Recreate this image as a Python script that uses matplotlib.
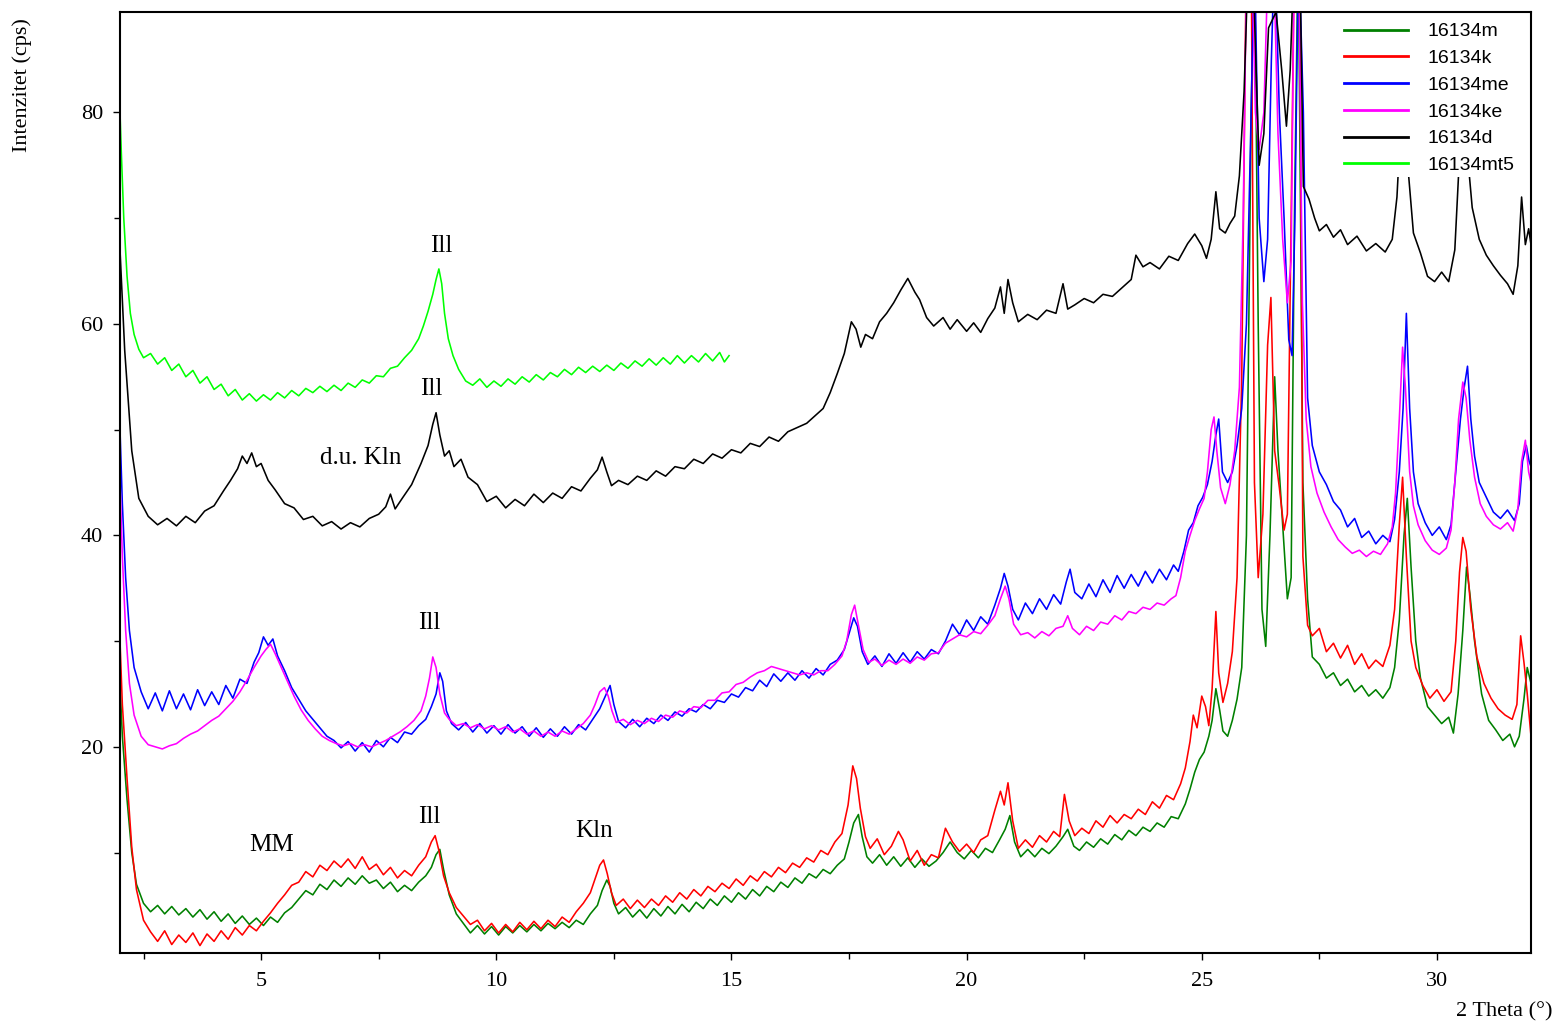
import numpy as np
import matplotlib
matplotlib.use('Agg')
import matplotlib.pyplot as plt
from matplotlib.ticker import MultipleLocator

# XRD traces, (2 theta [deg], intensity [cps])
# values above ~89 are off the top of the original plot
m_pts = [
    (2.0, 26.0), (2.05, 21.0), (2.15, 15.0), (2.25, 10.0), (2.35, 7.0), (2.5, 5.2), (2.65, 4.4),
    (2.8, 5.0), (2.95, 4.2), (3.1, 4.9), (3.25, 4.1), (3.4, 4.7), (3.55, 3.9), (3.7, 4.6),
    (3.85, 3.7), (4.0, 4.4), (4.15, 3.5), (4.3, 4.2), (4.45, 3.3), (4.6, 4.0), (4.75, 3.2),
    (4.9, 3.8), (5.05, 3.1), (5.2, 3.9), (5.35, 3.4), (5.5, 4.3), (5.65, 4.8), (5.8, 5.6),
    (5.95, 6.4), (6.1, 6.0), (6.25, 7.0), (6.4, 6.5), (6.55, 7.4), (6.7, 6.8), (6.85, 7.6),
    (7.0, 7.0), (7.15, 7.8), (7.3, 7.1), (7.45, 7.4), (7.6, 6.6), (7.75, 7.2), (7.9, 6.3),
    (8.05, 6.9), (8.2, 6.4), (8.35, 7.2), (8.5, 7.8), (8.62, 8.6), (8.72, 9.8), (8.8, 10.3),
    (8.88, 8.4), (9.0, 6.0), (9.15, 4.2), (9.3, 3.3), (9.45, 2.4), (9.6, 3.1), (9.75, 2.3),
    (9.9, 3.0), (10.05, 2.2), (10.2, 3.0), (10.35, 2.4), (10.5, 3.1), (10.65, 2.5), (10.8, 3.2),
    (10.95, 2.6), (11.1, 3.3), (11.25, 2.8), (11.4, 3.4), (11.55, 2.9), (11.7, 3.6), (11.85, 3.2),
    (12.0, 4.2), (12.15, 5.0), (12.25, 6.4), (12.35, 7.4), (12.42, 6.8), (12.5, 5.2), (12.6, 4.2),
    (12.75, 4.8), (12.9, 3.9), (13.05, 4.6), (13.2, 3.8), (13.35, 4.7), (13.5, 4.0), (13.65, 4.9),
    (13.8, 4.2), (13.95, 5.1), (14.1, 4.4), (14.25, 5.3), (14.4, 4.7), (14.55, 5.6), (14.7, 5.0),
    (14.85, 5.9), (15.0, 5.3), (15.15, 6.2), (15.3, 5.6), (15.45, 6.5), (15.6, 5.9), (15.75, 6.8),
    (15.9, 6.3), (16.05, 7.2), (16.2, 6.7), (16.35, 7.6), (16.5, 7.1), (16.65, 8.0), (16.8, 7.6),
    (16.95, 8.4), (17.1, 8.0), (17.25, 8.8), (17.4, 9.4), (17.5, 11.0), (17.6, 12.8), (17.7, 13.6),
    (17.78, 11.5), (17.88, 9.6), (18.0, 9.0), (18.15, 9.8), (18.3, 8.8), (18.45, 9.6), (18.6, 8.7),
    (18.75, 9.5), (18.9, 8.6), (19.05, 9.4), (19.2, 8.7), (19.35, 9.2), (19.5, 10.0), (19.65, 11.0),
    (19.8, 10.0), (19.95, 9.4), (20.1, 10.2), (20.25, 9.5), (20.4, 10.4), (20.55, 10.0), (20.7, 11.2),
    (20.82, 12.2), (20.92, 13.5), (21.02, 11.0), (21.15, 9.6), (21.3, 10.3), (21.45, 9.6), (21.6, 10.4),
    (21.75, 9.9), (21.9, 10.6), (22.05, 11.5), (22.15, 12.2), (22.28, 10.6), (22.4, 10.2), (22.55, 11.0),
    (22.7, 10.5), (22.85, 11.3), (23.0, 10.8), (23.15, 11.7), (23.3, 11.2), (23.45, 12.1), (23.6, 11.6),
    (23.75, 12.4), (23.9, 12.0), (24.05, 12.8), (24.2, 12.4), (24.35, 13.4), (24.5, 13.2), (24.65, 14.6),
    (24.75, 16.0), (24.85, 17.6), (24.95, 18.8), (25.05, 19.5), (25.15, 21.0), (25.22, 22.5), (25.3, 25.5),
    (25.38, 23.5), (25.45, 21.5), (25.55, 21.0), (25.65, 22.5), (25.75, 24.5), (25.85, 27.5), (25.95, 40.0),
    (26.05, 80.0), (26.12, 96.0), (26.2, 60.0), (26.28, 33.0), (26.36, 29.5), (26.45, 40.0), (26.55, 55.0),
    (26.62, 48.0), (26.72, 41.0), (26.82, 34.0), (26.9, 36.0), (26.97, 70.0), (27.05, 96.0), (27.15, 45.0),
    (27.25, 34.0), (27.35, 28.5), (27.5, 27.8), (27.65, 26.5), (27.8, 27.0), (27.95, 25.8), (28.1, 26.4),
    (28.25, 25.2), (28.4, 25.8), (28.55, 24.8), (28.7, 25.4), (28.85, 24.6), (29.0, 25.6), (29.1, 27.5),
    (29.2, 32.0), (29.3, 40.0), (29.37, 43.5), (29.45, 37.0), (29.55, 30.0), (29.65, 26.5), (29.8, 23.8),
    (29.95, 23.0), (30.1, 22.2), (30.25, 22.8), (30.35, 21.3), (30.45, 25.0), (30.55, 31.0), (30.63, 37.0),
    (30.7, 34.5), (30.8, 30.0), (30.95, 25.0), (31.1, 22.5), (31.25, 21.6), (31.4, 20.6), (31.55, 21.2),
    (31.65, 20.0), (31.75, 21.0), (31.85, 24.5), (31.92, 27.5), (32.0, 26.0),
]

k_pts = [
    (2.0, 30.0), (2.05, 24.0), (2.15, 17.0), (2.25, 10.5), (2.35, 6.5), (2.5, 3.6), (2.65, 2.5),
    (2.8, 1.6), (2.95, 2.6), (3.1, 1.3), (3.25, 2.2), (3.4, 1.5), (3.55, 2.4), (3.7, 1.2),
    (3.85, 2.3), (4.0, 1.6), (4.15, 2.6), (4.3, 1.8), (4.45, 2.9), (4.6, 2.2), (4.75, 3.1),
    (4.9, 2.6), (5.05, 3.5), (5.2, 4.3), (5.35, 5.2), (5.5, 6.0), (5.65, 6.9), (5.8, 7.2),
    (5.95, 8.2), (6.1, 7.7), (6.25, 8.8), (6.4, 8.3), (6.55, 9.2), (6.7, 8.6), (6.85, 9.4),
    (7.0, 8.5), (7.15, 9.6), (7.3, 8.4), (7.45, 8.9), (7.6, 7.9), (7.75, 8.6), (7.9, 7.6),
    (8.05, 8.3), (8.2, 7.8), (8.35, 8.8), (8.5, 9.6), (8.62, 11.0), (8.7, 11.6), (8.78, 10.2),
    (8.88, 7.8), (9.0, 6.2), (9.15, 4.8), (9.3, 4.0), (9.45, 3.2), (9.6, 3.6), (9.75, 2.6),
    (9.9, 3.3), (10.05, 2.4), (10.2, 3.2), (10.35, 2.5), (10.5, 3.4), (10.65, 2.7), (10.8, 3.5),
    (10.95, 2.8), (11.1, 3.6), (11.25, 3.0), (11.4, 3.9), (11.55, 3.4), (11.7, 4.4), (11.85, 5.2),
    (12.0, 6.2), (12.1, 7.5), (12.2, 8.8), (12.28, 9.3), (12.36, 8.0), (12.45, 6.2), (12.55, 5.0),
    (12.7, 5.6), (12.85, 4.7), (13.0, 5.5), (13.15, 4.8), (13.3, 5.6), (13.45, 5.0), (13.6, 5.9),
    (13.75, 5.3), (13.9, 6.2), (14.05, 5.6), (14.2, 6.5), (14.35, 5.9), (14.5, 6.8), (14.65, 6.3),
    (14.8, 7.1), (14.95, 6.6), (15.1, 7.5), (15.25, 6.9), (15.4, 7.8), (15.55, 7.3), (15.7, 8.2),
    (15.85, 7.7), (16.0, 8.6), (16.15, 8.1), (16.3, 9.0), (16.45, 8.6), (16.6, 9.5), (16.75, 9.1),
    (16.9, 10.2), (17.05, 9.8), (17.2, 11.0), (17.35, 11.8), (17.48, 14.5), (17.58, 18.2), (17.66, 17.0),
    (17.74, 14.2), (17.85, 11.5), (17.95, 10.4), (18.1, 11.3), (18.25, 9.8), (18.4, 10.6), (18.55, 12.0),
    (18.65, 11.2), (18.8, 9.2), (18.95, 10.2), (19.1, 8.8), (19.25, 9.8), (19.4, 9.5), (19.55, 12.3),
    (19.7, 11.0), (19.85, 10.1), (20.0, 10.8), (20.15, 10.0), (20.3, 11.2), (20.45, 11.6), (20.6, 14.0),
    (20.72, 15.8), (20.8, 14.5), (20.88, 16.6), (20.98, 13.0), (21.1, 10.4), (21.25, 11.2), (21.4, 10.5),
    (21.55, 11.6), (21.7, 11.0), (21.85, 12.0), (21.98, 11.5), (22.08, 15.5), (22.18, 13.0), (22.3, 11.6),
    (22.45, 12.3), (22.6, 11.8), (22.75, 13.0), (22.9, 12.4), (23.05, 13.5), (23.2, 12.8), (23.35, 13.6),
    (23.5, 13.2), (23.65, 14.1), (23.8, 13.6), (23.95, 14.8), (24.1, 14.2), (24.25, 15.4), (24.4, 15.0),
    (24.55, 16.5), (24.65, 18.0), (24.75, 20.5), (24.82, 23.0), (24.9, 21.8), (25.0, 24.8), (25.08, 23.8),
    (25.15, 22.0), (25.22, 25.5), (25.3, 32.8), (25.36, 27.0), (25.45, 24.2), (25.55, 26.0), (25.65, 29.0),
    (25.75, 36.0), (25.85, 55.0), (25.95, 96.0), (26.05, 96.0), (26.12, 45.0), (26.2, 36.0), (26.3, 42.0),
    (26.4, 58.0), (26.47, 62.5), (26.55, 48.0), (26.65, 44.5), (26.75, 40.5), (26.82, 42.0), (26.9, 70.0),
    (26.97, 96.0), (27.08, 96.0), (27.15, 38.0), (27.25, 31.5), (27.35, 30.5), (27.5, 31.2), (27.65, 29.0),
    (27.8, 29.8), (27.95, 28.4), (28.1, 29.6), (28.25, 27.8), (28.4, 28.8), (28.55, 27.4), (28.7, 28.2),
    (28.85, 27.6), (29.0, 29.6), (29.1, 33.0), (29.2, 41.0), (29.27, 45.5), (29.35, 38.0), (29.45, 30.0),
    (29.55, 27.5), (29.7, 25.8), (29.85, 24.6), (30.0, 25.4), (30.15, 24.3), (30.3, 25.2), (30.4, 30.0),
    (30.48, 36.5), (30.55, 39.8), (30.62, 38.5), (30.72, 33.0), (30.85, 28.5), (31.0, 26.0), (31.15, 24.6),
    (31.3, 23.6), (31.45, 23.0), (31.6, 22.6), (31.7, 24.0), (31.78, 30.5), (31.85, 28.0), (31.92, 25.0),
    (32.0, 21.0),
]

me_pts = [
    (2.0, 50.0), (2.05, 43.0), (2.12, 36.0), (2.2, 31.0), (2.3, 27.5), (2.45, 25.2), (2.6, 23.6),
    (2.75, 25.1), (2.9, 23.4), (3.05, 25.3), (3.2, 23.6), (3.35, 25.0), (3.5, 23.5), (3.65, 25.4),
    (3.8, 23.9), (3.95, 25.2), (4.1, 24.0), (4.25, 25.8), (4.4, 24.6), (4.55, 26.4), (4.7, 26.0),
    (4.85, 28.0), (4.95, 28.9), (5.05, 30.4), (5.15, 29.6), (5.25, 30.2), (5.35, 28.6), (5.5, 27.2),
    (5.65, 25.6), (5.8, 24.5), (5.95, 23.4), (6.1, 22.6), (6.25, 21.8), (6.4, 21.0), (6.55, 20.6),
    (6.7, 19.9), (6.85, 20.5), (7.0, 19.6), (7.15, 20.4), (7.3, 19.5), (7.45, 20.6), (7.6, 20.0),
    (7.75, 20.9), (7.9, 20.4), (8.05, 21.4), (8.2, 21.2), (8.35, 22.0), (8.5, 22.6), (8.62, 23.8),
    (8.72, 25.0), (8.8, 27.0), (8.86, 26.2), (8.94, 23.4), (9.05, 22.2), (9.2, 21.6), (9.35, 22.3),
    (9.5, 21.4), (9.65, 22.2), (9.8, 21.3), (9.95, 22.0), (10.1, 21.2), (10.25, 22.1), (10.4, 21.3),
    (10.55, 21.9), (10.7, 21.0), (10.85, 21.8), (11.0, 20.9), (11.15, 21.7), (11.3, 21.0), (11.45, 21.9),
    (11.6, 21.2), (11.75, 22.1), (11.9, 21.6), (12.05, 22.6), (12.2, 23.6), (12.32, 24.8), (12.42, 25.8),
    (12.5, 24.0), (12.6, 22.4), (12.75, 21.8), (12.9, 22.6), (13.05, 21.9), (13.2, 22.7), (13.35, 22.2),
    (13.5, 23.0), (13.65, 22.5), (13.8, 23.3), (13.95, 22.9), (14.1, 23.6), (14.25, 23.3), (14.4, 24.0),
    (14.55, 23.6), (14.7, 24.4), (14.85, 24.2), (15.0, 25.0), (15.15, 24.7), (15.3, 25.6), (15.45, 25.3),
    (15.6, 26.3), (15.75, 25.7), (15.9, 26.9), (16.05, 26.2), (16.2, 27.0), (16.35, 26.3), (16.5, 27.2),
    (16.65, 26.5), (16.8, 27.4), (16.95, 26.8), (17.1, 27.8), (17.25, 28.2), (17.4, 29.2), (17.52, 31.0),
    (17.6, 32.2), (17.68, 31.4), (17.78, 29.0), (17.9, 27.8), (18.05, 28.6), (18.2, 27.6), (18.35, 28.8),
    (18.5, 27.9), (18.65, 28.9), (18.8, 28.0), (18.95, 29.0), (19.1, 28.3), (19.25, 29.2), (19.4, 28.8),
    (19.55, 30.0), (19.7, 31.6), (19.85, 30.6), (20.0, 32.0), (20.15, 31.0), (20.3, 32.3), (20.45, 31.6),
    (20.6, 33.4), (20.72, 35.0), (20.8, 36.4), (20.88, 35.2), (20.98, 33.0), (21.1, 32.0), (21.25, 33.6),
    (21.4, 32.6), (21.55, 34.0), (21.7, 33.0), (21.85, 34.4), (22.0, 33.5), (22.12, 35.6), (22.2, 36.8),
    (22.3, 34.6), (22.45, 34.0), (22.6, 35.4), (22.75, 34.2), (22.9, 35.8), (23.05, 34.6), (23.2, 36.2),
    (23.35, 35.0), (23.5, 36.3), (23.65, 35.2), (23.8, 36.6), (23.95, 35.5), (24.1, 36.8), (24.25, 35.8),
    (24.4, 37.2), (24.5, 36.6), (24.62, 38.5), (24.72, 40.5), (24.82, 41.2), (24.92, 42.8), (25.02, 43.6),
    (25.12, 44.8), (25.22, 47.0), (25.3, 49.5), (25.36, 51.0), (25.44, 46.0), (25.55, 45.0), (25.65, 46.0),
    (25.75, 48.5), (25.85, 52.0), (25.95, 60.0), (26.05, 80.0), (26.12, 96.0), (26.22, 70.0), (26.32, 64.0),
    (26.4, 68.0), (26.48, 85.0), (26.55, 96.0), (26.65, 80.0), (26.75, 70.0), (26.85, 58.5), (26.92, 57.0),
    (26.98, 70.0), (27.06, 96.0), (27.16, 80.0), (27.25, 53.0), (27.35, 48.5), (27.5, 46.0), (27.65, 44.8),
    (27.8, 43.2), (27.95, 42.4), (28.1, 40.8), (28.25, 41.6), (28.4, 39.8), (28.55, 40.4), (28.7, 39.2),
    (28.85, 40.0), (29.0, 39.4), (29.1, 41.5), (29.2, 46.0), (29.28, 52.0), (29.35, 61.0), (29.42, 52.0),
    (29.5, 46.0), (29.6, 43.0), (29.75, 41.2), (29.9, 40.0), (30.05, 40.8), (30.2, 39.6), (30.3, 41.0),
    (30.4, 46.0), (30.5, 51.0), (30.58, 54.0), (30.65, 56.0), (30.72, 51.0), (30.8, 47.5), (30.9, 45.0),
    (31.05, 43.6), (31.2, 42.2), (31.35, 41.6), (31.5, 42.4), (31.65, 41.4), (31.75, 43.0), (31.82, 47.0),
    (31.9, 48.5), (31.96, 47.0), (32.0, 46.5),
]

ke_pts = [
    (2.0, 45.0), (2.05, 38.0), (2.12, 31.0), (2.2, 26.0), (2.3, 23.0), (2.45, 21.0), (2.6, 20.2),
    (2.75, 20.0), (2.9, 19.8), (3.05, 20.1), (3.2, 20.3), (3.35, 20.8), (3.5, 21.2), (3.65, 21.5),
    (3.8, 22.0), (3.95, 22.5), (4.1, 22.9), (4.25, 23.6), (4.4, 24.3), (4.55, 25.2), (4.7, 26.3),
    (4.85, 27.5), (5.0, 28.6), (5.1, 29.2), (5.2, 29.7), (5.3, 28.8), (5.4, 27.8), (5.55, 26.3),
    (5.7, 24.8), (5.85, 23.5), (6.0, 22.5), (6.15, 21.7), (6.3, 21.0), (6.45, 20.6), (6.6, 20.3),
    (6.75, 20.1), (6.9, 20.3), (7.05, 20.0), (7.2, 20.2), (7.35, 20.0), (7.5, 20.3), (7.65, 20.6),
    (7.8, 21.0), (7.95, 21.4), (8.1, 21.9), (8.25, 22.5), (8.4, 23.4), (8.5, 24.8), (8.58, 26.5),
    (8.65, 28.5), (8.72, 27.5), (8.8, 25.0), (8.9, 23.2), (9.0, 22.6), (9.15, 22.0), (9.3, 22.2),
    (9.45, 21.8), (9.6, 22.1), (9.75, 21.7), (9.9, 22.0), (10.05, 21.6), (10.2, 21.9), (10.35, 21.4),
    (10.5, 21.7), (10.65, 21.2), (10.8, 21.5), (10.95, 21.0), (11.1, 21.4), (11.25, 21.0), (11.4, 21.5),
    (11.55, 21.2), (11.7, 21.7), (11.85, 22.2), (12.0, 23.0), (12.1, 24.0), (12.2, 25.2), (12.3, 25.6),
    (12.38, 24.8), (12.46, 23.4), (12.55, 22.3), (12.7, 22.6), (12.85, 22.1), (13.0, 22.5), (13.15, 22.2),
    (13.3, 22.7), (13.45, 22.4), (13.6, 23.0), (13.75, 22.8), (13.9, 23.4), (14.05, 23.2), (14.2, 23.8),
    (14.35, 23.7), (14.5, 24.4), (14.65, 24.4), (14.8, 25.1), (14.95, 25.2), (15.1, 25.9), (15.25, 26.1),
    (15.4, 26.6), (15.55, 27.0), (15.7, 27.2), (15.85, 27.6), (16.0, 27.4), (16.15, 27.2), (16.3, 27.0),
    (16.45, 26.8), (16.6, 27.0), (16.75, 26.8), (16.9, 27.2), (17.05, 27.2), (17.2, 27.8), (17.35, 28.6),
    (17.45, 30.0), (17.55, 32.5), (17.62, 33.4), (17.7, 31.5), (17.8, 29.2), (17.92, 28.0), (18.05, 28.3),
    (18.2, 27.7), (18.35, 28.2), (18.5, 27.8), (18.65, 28.3), (18.8, 27.9), (18.95, 28.5), (19.1, 28.2),
    (19.25, 28.8), (19.4, 28.9), (19.55, 29.8), (19.7, 30.2), (19.85, 30.6), (20.0, 30.4), (20.15, 30.9),
    (20.3, 30.7), (20.45, 31.5), (20.6, 32.4), (20.72, 34.0), (20.82, 35.2), (20.9, 34.0), (21.0, 31.6),
    (21.15, 30.6), (21.3, 30.8), (21.45, 30.3), (21.6, 30.9), (21.75, 30.5), (21.9, 31.2), (22.05, 31.4),
    (22.15, 32.4), (22.25, 31.2), (22.4, 30.6), (22.55, 31.4), (22.7, 31.0), (22.85, 31.8), (23.0, 31.6),
    (23.15, 32.4), (23.3, 32.0), (23.45, 32.8), (23.6, 32.6), (23.75, 33.2), (23.9, 33.0), (24.05, 33.6),
    (24.2, 33.4), (24.35, 34.0), (24.45, 34.3), (24.55, 36.0), (24.65, 38.5), (24.75, 40.0), (24.85, 41.4),
    (24.95, 42.5), (25.05, 43.5), (25.12, 46.0), (25.2, 50.0), (25.26, 51.2), (25.32, 48.0), (25.4, 44.5),
    (25.5, 43.0), (25.6, 44.8), (25.7, 48.0), (25.8, 54.0), (25.88, 70.0), (25.96, 96.0), (26.06, 96.0),
    (26.14, 80.0), (26.22, 76.5), (26.32, 80.0), (26.42, 96.0), (26.52, 96.0), (26.62, 78.0), (26.72, 68.0),
    (26.82, 62.0), (26.9, 66.0), (26.97, 96.0), (27.06, 96.0), (27.14, 62.0), (27.22, 51.0), (27.32, 46.5),
    (27.45, 44.0), (27.6, 42.2), (27.75, 40.8), (27.9, 39.6), (28.05, 38.9), (28.2, 38.3), (28.35, 38.6),
    (28.5, 38.0), (28.65, 38.5), (28.8, 38.2), (28.95, 39.2), (29.05, 40.8), (29.12, 44.0), (29.2, 51.0),
    (29.27, 57.8), (29.33, 54.0), (29.42, 46.0), (29.5, 42.8), (29.6, 41.0), (29.75, 39.5), (29.9, 38.6),
    (30.05, 38.2), (30.2, 38.8), (30.3, 40.5), (30.38, 45.0), (30.46, 51.0), (30.55, 54.5), (30.62, 53.0),
    (30.7, 49.0), (30.8, 45.5), (30.92, 43.0), (31.05, 41.8), (31.2, 41.0), (31.35, 40.6), (31.5, 41.2),
    (31.62, 40.4), (31.72, 42.5), (31.8, 47.0), (31.88, 49.0), (31.95, 46.0), (32.0, 45.0),
]

d_pts = [
    (2.0, 67.0), (2.1, 57.5), (2.25, 48.0), (2.4, 43.5), (2.6, 41.8), (2.8, 41.0), (3.0, 41.6),
    (3.2, 40.9), (3.4, 41.8), (3.6, 41.2), (3.8, 42.3), (4.0, 42.8), (4.2, 44.2), (4.35, 45.2),
    (4.5, 46.3), (4.6, 47.5), (4.7, 46.8), (4.8, 47.8), (4.9, 46.5), (5.0, 46.8), (5.15, 45.2),
    (5.3, 44.3), (5.5, 43.0), (5.7, 42.6), (5.9, 41.5), (6.1, 41.8), (6.3, 40.9), (6.5, 41.3),
    (6.7, 40.6), (6.9, 41.2), (7.1, 40.8), (7.3, 41.6), (7.5, 42.0), (7.65, 42.7), (7.75, 43.9),
    (7.85, 42.5), (8.0, 43.5), (8.2, 44.8), (8.4, 46.8), (8.55, 48.5), (8.65, 50.5), (8.72, 51.6),
    (8.8, 49.5), (8.9, 47.5), (9.0, 48.0), (9.1, 46.5), (9.25, 47.2), (9.4, 45.5), (9.6, 44.8),
    (9.8, 43.2), (10.0, 43.7), (10.2, 42.6), (10.4, 43.4), (10.6, 42.8), (10.8, 43.9), (11.0, 43.1),
    (11.2, 44.0), (11.4, 43.5), (11.6, 44.6), (11.8, 44.2), (12.0, 45.4), (12.15, 46.2), (12.25, 47.4),
    (12.35, 46.0), (12.45, 44.7), (12.6, 45.2), (12.8, 44.8), (13.0, 45.6), (13.2, 45.2), (13.4, 46.1),
    (13.6, 45.6), (13.8, 46.5), (14.0, 46.3), (14.2, 47.2), (14.4, 46.8), (14.6, 47.7), (14.8, 47.3),
    (15.0, 48.1), (15.2, 47.8), (15.4, 48.7), (15.6, 48.4), (15.8, 49.3), (16.0, 48.9), (16.2, 49.8),
    (16.4, 50.2), (16.6, 50.6), (16.8, 51.4), (16.95, 52.0), (17.1, 53.5), (17.25, 55.3), (17.4, 57.2),
    (17.55, 60.2), (17.65, 59.5), (17.75, 57.8), (17.85, 59.0), (18.0, 58.6), (18.15, 60.2), (18.3, 61.0),
    (18.45, 62.0), (18.6, 63.2), (18.75, 64.3), (18.9, 63.0), (19.0, 62.3), (19.15, 60.6), (19.3, 59.8),
    (19.5, 60.6), (19.65, 59.5), (19.8, 60.4), (20.0, 59.3), (20.15, 60.1), (20.3, 59.2), (20.45, 60.5),
    (20.6, 61.5), (20.72, 63.5), (20.8, 61.0), (20.88, 64.2), (20.98, 62.0), (21.1, 60.2), (21.3, 60.9),
    (21.5, 60.4), (21.7, 61.3), (21.9, 61.0), (22.05, 63.8), (22.15, 61.4), (22.3, 61.8), (22.5, 62.4),
    (22.7, 62.0), (22.9, 62.8), (23.1, 62.6), (23.3, 63.4), (23.5, 64.2), (23.6, 66.5), (23.75, 65.4),
    (23.9, 65.8), (24.1, 65.2), (24.3, 66.4), (24.5, 66.0), (24.7, 67.6), (24.85, 68.5), (25.0, 67.4),
    (25.1, 66.2), (25.2, 68.0), (25.3, 72.5), (25.38, 69.0), (25.5, 68.6), (25.6, 69.5), (25.7, 70.2),
    (25.8, 74.0), (25.9, 82.0), (26.0, 96.0), (26.1, 92.0), (26.22, 75.0), (26.32, 78.0), (26.42, 88.0),
    (26.58, 89.5), (26.7, 84.0), (26.8, 78.7), (26.88, 84.0), (26.97, 96.0), (27.08, 96.0), (27.16, 73.0),
    (27.28, 71.8), (27.4, 70.0), (27.5, 68.8), (27.65, 69.4), (27.8, 68.2), (27.95, 68.9), (28.1, 67.5),
    (28.3, 68.3), (28.5, 66.9), (28.7, 67.6), (28.9, 66.8), (29.05, 68.0), (29.15, 72.0), (29.22, 78.0),
    (29.3, 80.0), (29.38, 75.0), (29.5, 68.6), (29.65, 66.7), (29.8, 64.5), (29.95, 64.0), (30.1, 64.9),
    (30.25, 64.0), (30.38, 67.0), (30.47, 75.0), (30.55, 80.0), (30.65, 76.0), (30.75, 71.0), (30.9, 68.0),
    (31.05, 66.5), (31.2, 65.5), (31.35, 64.6), (31.5, 63.8), (31.62, 62.8), (31.72, 65.5), (31.8, 72.0),
    (31.88, 67.5), (31.95, 69.0), (32.0, 67.5),
]

mt5_pts = [
    (2.0, 80.0), (2.03, 76.0), (2.08, 70.0), (2.15, 64.5), (2.22, 61.0), (2.3, 59.0), (2.4, 57.6),
    (2.5, 56.8), (2.65, 57.2), (2.8, 56.2), (2.95, 56.8), (3.1, 55.6), (3.25, 56.2), (3.4, 55.0),
    (3.55, 55.6), (3.7, 54.4), (3.85, 55.0), (4.0, 53.8), (4.15, 54.3), (4.3, 53.2), (4.45, 53.8),
    (4.6, 52.8), (4.75, 53.4), (4.9, 52.7), (5.05, 53.3), (5.2, 52.8), (5.35, 53.5), (5.5, 53.0),
    (5.65, 53.7), (5.8, 53.2), (5.95, 53.9), (6.1, 53.5), (6.25, 54.1), (6.4, 53.6), (6.55, 54.2),
    (6.7, 53.7), (6.85, 54.4), (7.0, 54.0), (7.15, 54.7), (7.3, 54.4), (7.45, 55.1), (7.6, 55.0),
    (7.75, 55.8), (7.9, 56.0), (8.05, 56.8), (8.2, 57.5), (8.35, 58.6), (8.45, 59.8), (8.55, 61.2),
    (8.65, 62.8), (8.72, 64.2), (8.78, 65.2), (8.84, 63.8), (8.9, 61.0), (8.98, 58.6), (9.08, 57.0),
    (9.2, 55.7), (9.35, 54.6), (9.5, 54.2), (9.65, 54.8), (9.8, 54.0), (9.95, 54.6), (10.1, 54.1),
    (10.25, 54.8), (10.4, 54.3), (10.55, 55.0), (10.7, 54.5), (10.85, 55.2), (11.0, 54.7), (11.15, 55.4),
    (11.3, 55.0), (11.45, 55.7), (11.6, 55.2), (11.75, 55.9), (11.9, 55.4), (12.05, 56.0), (12.2, 55.5),
    (12.35, 56.1), (12.5, 55.6), (12.65, 56.3), (12.8, 55.8), (12.95, 56.5), (13.1, 56.0), (13.25, 56.7),
    (13.4, 56.1), (13.55, 56.8), (13.7, 56.2), (13.85, 57.0), (14.0, 56.3), (14.15, 57.0), (14.3, 56.4),
    (14.45, 57.2), (14.6, 56.5), (14.75, 57.3), (14.85, 56.4), (14.95, 57.0),
]

series = [
    ('16134m', m_pts, '#008000'),
    ('16134k', k_pts, '#ff0000'),
    ('16134me', me_pts, '#0000ff'),
    ('16134ke', ke_pts, '#ff00ff'),
    ('16134d', d_pts, '#000000'),
    ('16134mt5', mt5_pts, '#00ff00'),
]

# phase labels: (text, 2theta, intensity)
labels = [
    ('Ill', 8.84, 67.4),
    ('Ill', 8.61, 53.8),
    ('d.u. Kln', 7.12, 47.3),
    ('Ill', 8.57, 31.7),
    ('MM', 5.23, 10.7),
    ('Ill', 8.57, 13.4),
    ('Kln', 12.07, 12.0),
]

serif = 'Liberation Serif'

fig = plt.figure(figsize=(15.55, 10.26), dpi=100)
ax = fig.add_axes([120 / 1555, 73 / 1026, 1411 / 1555, 941 / 1026])

for name, pts, col in series:
    xs, ys = zip(*pts)
    ax.plot(xs, ys, color=col, lw=1.15, label=name)

for txt, x, y in labels:
    ax.text(x, y, txt, ha='center', va='center', fontsize=18, family=serif)

ax.set_xlim(2, 32)
ax.set_ylim(0.5, 89.5)
ax.xaxis.set_major_locator(MultipleLocator(5))
ax.xaxis.set_minor_locator(MultipleLocator(2.5))
ax.yaxis.set_major_locator(MultipleLocator(20))
ax.yaxis.set_minor_locator(MultipleLocator(10))
ax.tick_params(which='both', direction='out', labelsize=16, width=1.0)
ax.tick_params(which='major', length=5)
ax.tick_params(which='minor', length=4)
ax.tick_params(axis='x', pad=9)
ax.tick_params(axis='y', pad=7)
for lab in ax.get_xticklabels() + ax.get_yticklabels():
    lab.set_family(serif)
for sp in ax.spines.values():
    sp.set_linewidth(1.5)

leg = ax.legend(loc='upper right', bbox_to_anchor=(0.997, 1.002), frameon=True,
                handlelength=3.3, handletextpad=1.0, labelspacing=0.47,
                borderpad=0.15, prop={'family': 'Liberation Sans', 'size': 14})
leg.get_frame().set_edgecolor('none')
leg.get_frame().set_facecolor('white')
leg.get_frame().set_alpha(1.0)
for line in leg.get_lines():
    line.set_linewidth(2.0)

fig.text(22 / 1555, 1 - 18 / 1026, 'Intenzitet (cps)', rotation=90, ha='center', va='top',
         fontsize=16, family=serif)
fig.text(1552 / 1555, 1 - 1012 / 1026, '2 Theta (°)', ha='right', va='center',
         fontsize=16, family=serif)

fig.savefig('out.png', dpi=100)
